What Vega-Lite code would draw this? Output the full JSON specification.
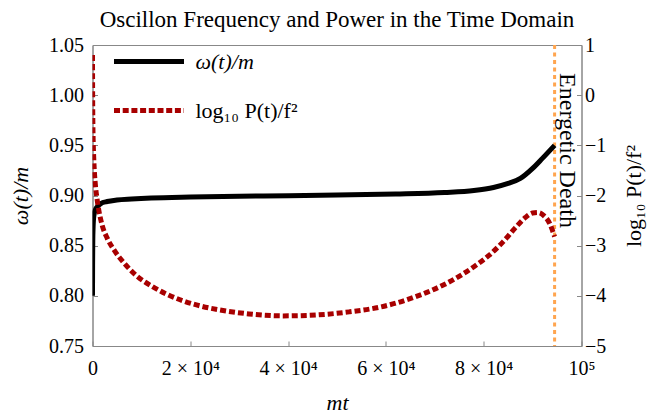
{
  "$schema": "https://vega.github.io/schema/vega-lite/v6.json",
  "width": 489,
  "height": 301,
  "autosize": "none",
  "padding": {"left": 92.5, "top": 45, "right": 68.5, "bottom": 70},
  "background": "white",
  "title": {
    "text": "Oscillon Frequency and Power in the Time Domain",
    "font": "Liberation Serif",
    "fontSize": 23,
    "fontWeight": "normal",
    "color": "black",
    "offset": -8
  },
  "config": {
    "view": {"stroke": "#888", "strokeWidth": 1},
    "axis": {
      "domainColor": "#888",
      "tickColor": "#888",
      "grid": false,
      "labelFont": "Liberation Serif",
      "labelFontSize": 20,
      "labelColor": "black",
      "titleFont": "Liberation Serif",
      "titleFontSize": 22,
      "titleFontWeight": "normal",
      "titleColor": "black",
      "tickSize": -5,
      "labelFlush": false,
      "labelOverlap": false
    }
  },
  "datasets": {
    "omega": [
      {"mt": 0, "omega": 0.800},
      {"mt": 20, "omega": 0.830},
      {"mt": 60, "omega": 0.855},
      {"mt": 120, "omega": 0.868},
      {"mt": 200, "omega": 0.876},
      {"mt": 350, "omega": 0.882},
      {"mt": 600, "omega": 0.886},
      {"mt": 1000, "omega": 0.889},
      {"mt": 1700, "omega": 0.892},
      {"mt": 3000, "omega": 0.894},
      {"mt": 5000, "omega": 0.8955},
      {"mt": 8000, "omega": 0.8965},
      {"mt": 12000, "omega": 0.8975},
      {"mt": 20000, "omega": 0.8985},
      {"mt": 35000, "omega": 0.8995},
      {"mt": 50000, "omega": 0.9005},
      {"mt": 62000, "omega": 0.9015},
      {"mt": 72000, "omega": 0.903},
      {"mt": 78000, "omega": 0.905},
      {"mt": 82000, "omega": 0.908},
      {"mt": 85000, "omega": 0.912},
      {"mt": 87500, "omega": 0.917},
      {"mt": 90000, "omega": 0.927},
      {"mt": 92000, "omega": 0.937},
      {"mt": 94500, "omega": 0.950}
    ],
    "power": [
      {"mt": 0, "logp": 0.8},
      {"mt": 15, "logp": 0.3},
      {"mt": 40, "logp": -0.2},
      {"mt": 80, "logp": -0.6},
      {"mt": 150, "logp": -0.95},
      {"mt": 250, "logp": -1.25},
      {"mt": 400, "logp": -1.55},
      {"mt": 600, "logp": -1.8},
      {"mt": 900, "logp": -2.05},
      {"mt": 1300, "logp": -2.3},
      {"mt": 2000, "logp": -2.6},
      {"mt": 3000, "logp": -2.85},
      {"mt": 4500, "logp": -3.1},
      {"mt": 6500, "logp": -3.35},
      {"mt": 9000, "logp": -3.6},
      {"mt": 12000, "logp": -3.8},
      {"mt": 15000, "logp": -3.96},
      {"mt": 18500, "logp": -4.1},
      {"mt": 22000, "logp": -4.2},
      {"mt": 26000, "logp": -4.28},
      {"mt": 32000, "logp": -4.36},
      {"mt": 39000, "logp": -4.4},
      {"mt": 46000, "logp": -4.38},
      {"mt": 52500, "logp": -4.32},
      {"mt": 59000, "logp": -4.22},
      {"mt": 66000, "logp": -4.02},
      {"mt": 73000, "logp": -3.72},
      {"mt": 78000, "logp": -3.42},
      {"mt": 81000, "logp": -3.2},
      {"mt": 84000, "logp": -2.92},
      {"mt": 86500, "logp": -2.64},
      {"mt": 88500, "logp": -2.44},
      {"mt": 90000, "logp": -2.35},
      {"mt": 91200, "logp": -2.34},
      {"mt": 92300, "logp": -2.4},
      {"mt": 93500, "logp": -2.56},
      {"mt": 94500, "logp": -2.82}
    ],
    "event": [
      {"mt": 94500, "omega": 1.022, "label": "Energetic Death"}
    ]
  },
  "layer": [
    {
      "data": {"name": "event"},
      "mark": {"type": "rule", "color": "#ffa54f", "strokeWidth": 3, "strokeDash": [4, 3.5]},
      "encoding": {
        "x": {"field": "mt", "type": "quantitative", "scale": {"domain": [0, 100000], "nice": false}}
      }
    },
    {
      "data": {"name": "omega"},
      "mark": {"type": "line", "strokeWidth": 5, "interpolate": "monotone", "clip": true},
      "encoding": {
        "x": {
          "field": "mt",
          "type": "quantitative",
          "scale": {"domain": [0, 100000], "nice": false},
          "title": "mt",
          "axis": {
            "values": [0, 20000, 40000, 60000, 80000, 100000],
            "labelExpr": "datum.value == 0 ? '0' : datum.value == 100000 ? '10⁵' : format(datum.value / 10000, 'd') + ' × 10⁴'",
            "labelPadding": 17,
            "titleFontStyle": "italic",
            "titlePadding": 14
          }
        },
        "y": {
          "field": "omega",
          "type": "quantitative",
          "scale": {"domain": [0.75, 1.05], "nice": false, "zero": false},
          "title": "ω(t)/m",
          "axis": {
            "orient": "left",
            "values": [0.75, 0.8, 0.85, 0.9, 0.95, 1.0, 1.05],
            "format": ".2f",
            "labelPadding": 14,
            "titleFontStyle": "italic",
            "titlePadding": 16
          }
        },
        "color": {
          "datum": "ω(t)/m",
          "type": "nominal",
          "scale": {"domain": ["ω(t)/m", "log₁₀ P(t)/f²"], "range": ["black", "#a80000"]},
          "legend": {
            "orient": "none",
            "legendX": 19,
            "legendY": -21,
            "title": null,
            "padding": 0,
            "symbolType": "stroke",
            "symbolSize": 4900,
            "symbolStrokeWidth": 5,
            "labelFont": "Liberation Serif",
            "labelFontSize": 22,
            "labelColor": "black",
            "labelOffset": 9,
            "rowPadding": -28,
            "encode": {
              "symbols": {"update": {"strokeDash": {"signal": "datum.value === 'ω(t)/m' ? [1, 0] : [6, 2.7]"}}},
              "labels": {"update": {"fontStyle": {"signal": "datum.value === 'ω(t)/m' ? 'italic' : 'normal'"}}}
            }
          }
        }
      }
    },
    {
      "data": {"name": "power"},
      "mark": {"type": "line", "strokeWidth": 5, "strokeDash": [6, 3], "interpolate": "monotone", "clip": true},
      "encoding": {
        "x": {"field": "mt", "type": "quantitative", "scale": {"domain": [0, 100000], "nice": false}},
        "y": {
          "field": "logp",
          "type": "quantitative",
          "scale": {"domain": [-5, 1], "nice": false, "zero": false},
          "title": "log₁₀ P(t)/f²",
          "axis": {
            "orient": "right",
            "values": [-5, -4, -3, -2, -1, 0, 1],
            "format": "d",
            "labelPadding": 8,
            "titleAngle": 270,
            "titlePadding": 40
          }
        },
        "color": {"datum": "log₁₀ P(t)/f²", "type": "nominal"}
      }
    },
    {
      "data": {"name": "event"},
      "mark": {"type": "text", "angle": 90, "align": "left", "baseline": "bottom", "dy": 0, "font": "Liberation Serif", "fontSize": 24, "color": "black"},
      "encoding": {
        "x": {"field": "mt", "type": "quantitative", "scale": {"domain": [0, 100000], "nice": false}},
        "y": {"field": "omega", "type": "quantitative", "scale": {"domain": [0.75, 1.05], "nice": false, "zero": false}, "axis": null},
        "text": {"field": "label"}
      }
    }
  ],
  "resolve": {"scale": {"y": "independent"}}
}
